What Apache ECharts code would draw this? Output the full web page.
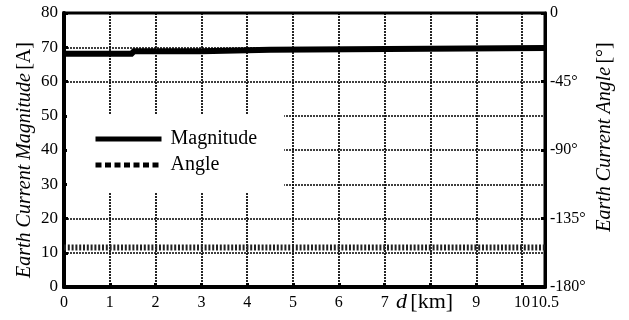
<!DOCTYPE html>
<html><head><meta charset="utf-8">
<script src="https://cdn.jsdelivr.net/npm/echarts@6/dist/echarts.min.js"></script>
<style>html,body{margin:0;padding:0;background:#fff}#c{width:629px;height:320px}</style>
</head><body><div id="c"></div>
<script>
// Data
const magDistance = [0, 1.5, 3, 4.5, 10.5];          // km, step breakpoints
const magnitude = [68.1, 68.8, 69.3, 69.8, 69.8];     // A
const angleDistance = [0, 10.5];                      // km
const angle = [-154, -154];                           // degrees
const xTickLabels = [0, 1, 2, 3, 4, 5, 6, 7, 9, 10, 10.5];
const leftTicks = [0, 10, 20, 30, 40, 50, 60, 70, 80];
const rightTicks = [-180, -135, -90, -45, 0];

const FONT = '"Liberation Serif", "DejaVu Serif", serif';
const grid = {left: 64, right: 84, top: 13, bottom: 33};

const chart = echarts.init(document.getElementById('c'));
const gridLine = {show: true, lineStyle: {color: '#000', type: [2, 1], width: 1.7}};
const richName = {
  i: {fontFamily: FONT, fontSize: 20, fontStyle: 'italic', fill: '#000'},
  n: {fontFamily: FONT, fontSize: 20, fill: '#000'}
};
chart.setOption({
  animation: false,
  backgroundColor: '#fff',
  grid: Object.assign({show: true, borderColor: '#000', borderWidth: 3, backgroundColor: 'transparent'}, grid),
  legend: {
    show: true, orient: 'vertical', left: 67, top: 114,
    backgroundColor: '#fff',
    padding: [15, 27, 17, 26],
    itemGap: 6, itemWidth: 66, itemHeight: 14,
    textStyle: {fontFamily: FONT, fontSize: 20, color: '#000', padding: [0, 0, 0, 4]},
    data: [
      {name: 'Magnitude', itemStyle: {opacity: 0}, lineStyle: {width: 5, type: 'solid', color: '#000'}},
      {name: 'Angle', itemStyle: {opacity: 0}, lineStyle: {width: 5, type: [6, 3.5], color: '#000'}}
    ]
  },
  xAxis: {
    type: 'value', min: 0, max: 10.5, interval: 1,
    axisLine: {show: true, onZero: false, lineStyle: {color: '#000', width: 4}},
    axisTick: {show: true, inside: true, length: 4, lineStyle: {width: 3, color: '#000'}},
    axisLabel: {customValues: xTickLabels, fontFamily: FONT, fontSize: 16, color: '#000', margin: 8,
      formatter: v => String(v)},
    splitLine: gridLine
  },
  yAxis: [{
    type: 'value', min: 0, max: 80, interval: 10,
    axisLine: {show: true, lineStyle: {color: '#000', width: 4}},
    axisTick: {show: true, inside: true, length: 4, lineStyle: {width: 3, color: '#000'}},
    axisLabel: {customValues: leftTicks, fontFamily: FONT, fontSize: 17, color: '#000', margin: 6},
    splitLine: gridLine
  }, {
    type: 'value', min: -180, max: 0, interval: 45, position: 'right',
    axisLine: {show: true, lineStyle: {color: '#000', width: 3}},
    axisTick: {show: true, inside: true, length: 4, lineStyle: {width: 3, color: '#000'}},
    axisLabel: {customValues: rightTicks, fontFamily: FONT, fontSize: 16, color: '#000', margin: 5,
      formatter: v => v === 0 ? '0' : v + '°'},
    splitLine: {show: false}
  }],
  graphic: [{
    type: 'text', x: 25, y: 160, rotation: Math.PI / 2, z: 100,
    style: {text: '{i|Earth Current Magnitude} {n|[A]}', rich: richName, align: 'center', verticalAlign: 'middle'}
  }, {
    type: 'text', x: 605, y: 137, rotation: Math.PI / 2, z: 100,
    style: {text: '{i|Earth Current Angle} {n|[°]}', rich: richName, align: 'center', verticalAlign: 'middle'}
  }, {
    type: 'text', left: 396, top: 291, z: 100,
    style: {text: '{i|d} {n|[km]}', rich: {
      i: {fontFamily: FONT, fontSize: 22, fontStyle: 'italic', fill: '#000'},
      n: {fontFamily: FONT, fontSize: 22, fill: '#000'}}}
  }],
  series: [{
    name: 'Magnitude', type: 'line', step: 'end', yAxisIndex: 0, symbol: 'none',
    lineStyle: {color: '#000', width: 6, type: 'solid', cap: 'butt'},
    data: magDistance.map((d, i) => [d, magnitude[i]]), z: 5
  }, {
    name: 'Angle', type: 'line', yAxisIndex: 1, symbol: 'none',
    lineStyle: {color: '#222', width: 6, type: [2, 1.8], cap: 'butt'},
    data: angleDistance.map((d, i) => [d, angle[i]]), z: 4
  }]
});
</script></body></html>
